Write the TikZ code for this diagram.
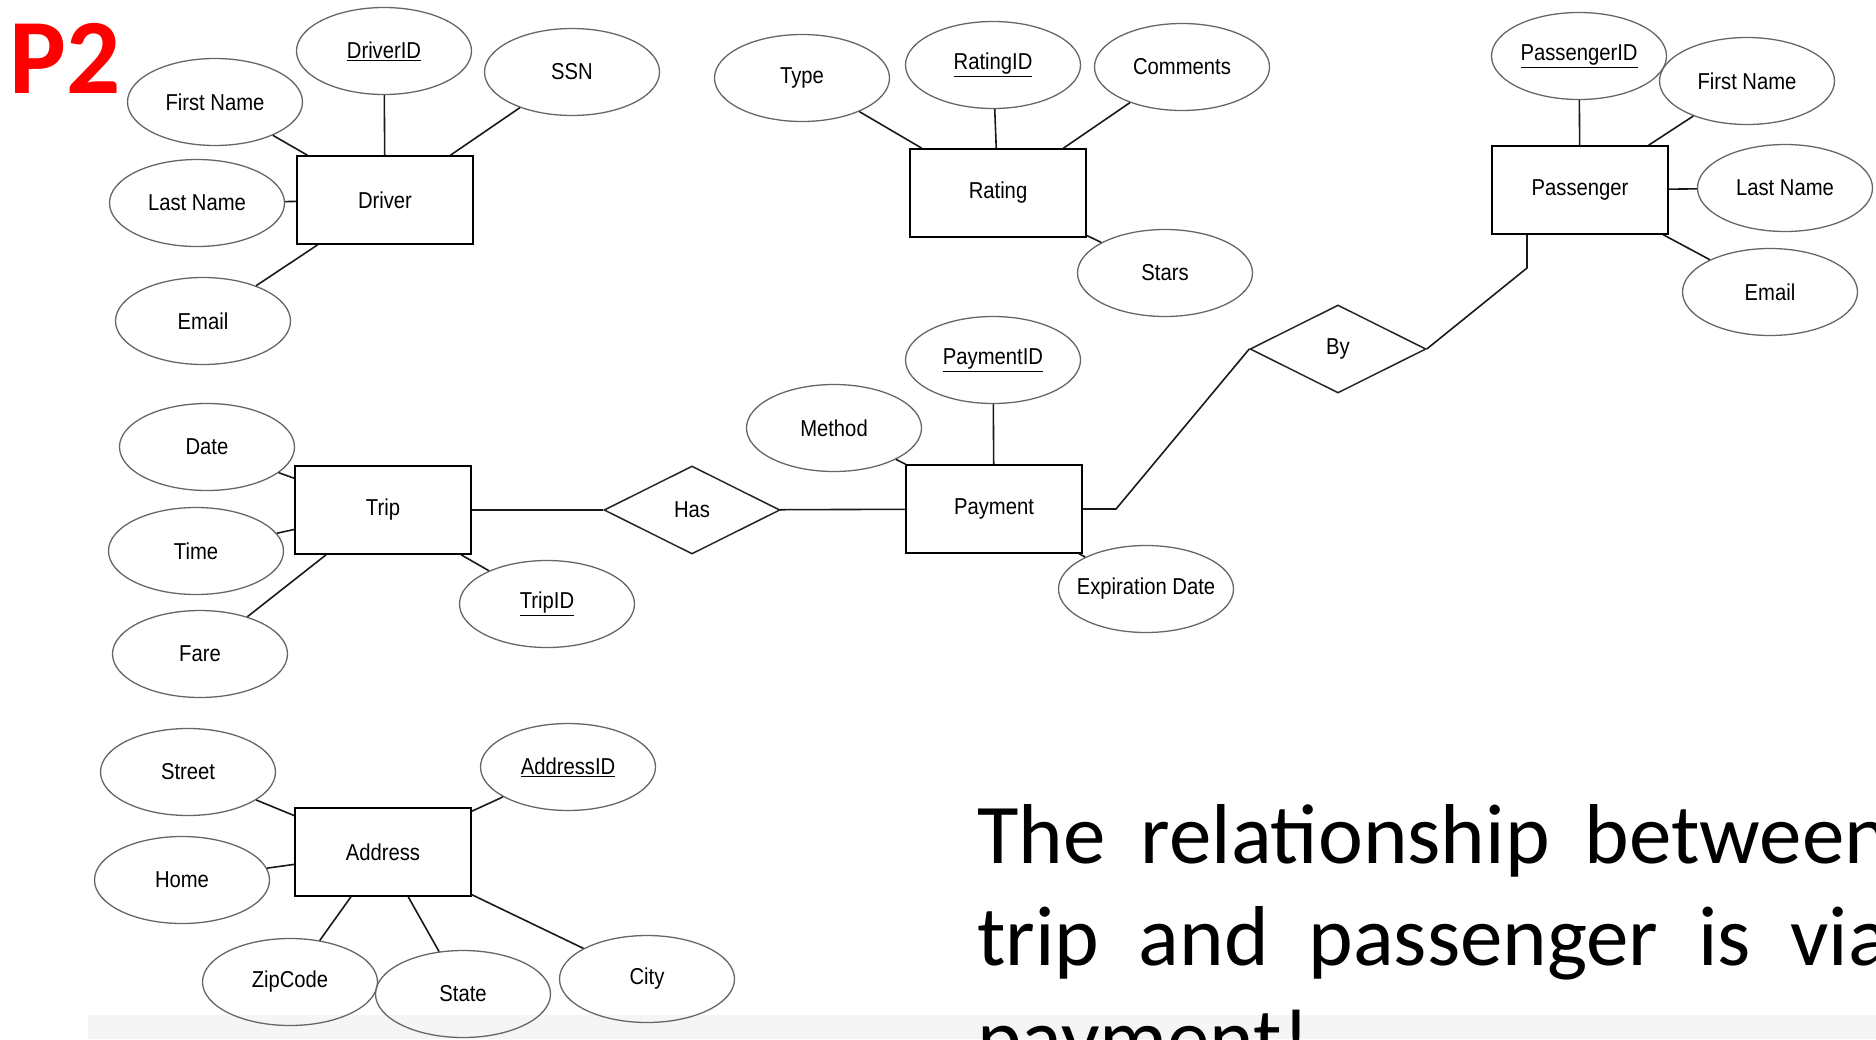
\documentclass[tikz,border=0pt]{standalone}
\usepackage{fontspec}
\setmainfont{Liberation Sans}
\newfontfamily\erfont[FakeStretch=0.88]{Liberation Sans}
\newfontfamily\slidefont{Carlito}
\usetikzlibrary{shapes.geometric}
\begin{document}
\begin{tikzpicture}[x=1pt,y=-1pt,
  attr/.style={ellipse, draw=black!60, line width=1.3pt,
    minimum width=175pt, minimum height=87pt, inner sep=0pt,
    font=\erfont\fontsize{23pt}{27pt}\selectfont},
  entity/.style={rectangle, draw=black, line width=1.6pt,
    minimum width=176pt, minimum height=88pt, inner sep=0pt,
    font=\erfont\fontsize{23pt}{27pt}\selectfont},
  relation/.style={diamond, draw=black!85, line width=1.5pt,
    minimum width=176pt, minimum height=88pt, inner sep=0pt,
    font=\erfont\fontsize{23pt}{27pt}\selectfont},
  link/.style={draw=black!90, line width=1.6pt}]
\useasboundingbox (0,0) rectangle (1876,1039);
\clip (0,0) rectangle (1876,1039);

% light strip along the bottom edge
\fill[black!4] (88,1015) rectangle (1876,1039);

% slide label
\node[anchor=base west, inner sep=0pt, text=red,
  font=\slidefont\bfseries\fontsize{107pt}{116pt}\selectfont] (tag) at (9,93) {P2};

% Driver
\node[entity] (driver) at (385,200) {Driver};
\node[attr] (driverid) at (384,51) {\underline{DriverID}};
\node[attr] (ssn) at (572,72) {SSN};
\node[attr] (dfirst) at (215,102) {First Name};
\node[attr] (dlast) at (197,203) {Last Name};
\node[attr] (demail) at (203,321) {Email};
\foreach \a in {driverid,ssn,dfirst,dlast,demail} \draw[link] (\a) -- (driver);

% Rating
\node[entity] (rating) at (998,193) {Rating};
\node[attr] (type) at (802,78) {Type};
\node[attr] (ratingid) at (993,65) {\underline{RatingID}};
\node[attr] (comments) at (1182,67) {Comments};
\node[attr] (stars) at (1165,273) {Stars};
\foreach \a in {type,ratingid,comments,stars} \draw[link] (\a) -- (rating);

% Passenger
\node[entity] (passenger) at (1580,190) {Passenger};
\node[attr] (passengerid) at (1579,56) {\underline{PassengerID}};
\node[attr] (pfirst) at (1747,81) {First Name};
\node[attr] (plast) at (1785,188) {Last Name};
\node[attr] (pemail) at (1770,292) {Email};
\foreach \a in {passengerid,pfirst,plast,pemail} \draw[link] (\a) -- (passenger);

% Payment
\node[entity] (payment) at (994,509) {Payment};
\node[attr] (paymentid) at (993,360) {\underline{PaymentID}};
\node[attr] (method) at (834,428) {Method};
\node[attr] (expdate) at (1146,589) {\makebox[0pt]{Expiration Date}};
\foreach \a in {paymentid,method,expdate} \draw[link] (\a) -- (payment);

% Trip
\node[entity] (trip) at (383,510) {Trip};
\node[attr] (date) at (207,447) {Date};
\node[attr] (time) at (196,551) {Time};
\node[attr] (fare) at (200,654) {Fare};
\node[attr] (tripid) at (547,604) {\underline{TripID}};
\foreach \a in {date,time,fare,tripid} \draw[link] (\a) -- (trip);

% Address
\node[entity] (address) at (383,852) {Address};
\node[attr] (street) at (188,772) {Street};
\node[attr] (addressid) at (568,767) {\underline{AddressID}};
\node[attr] (home) at (182,880) {Home};
\node[attr] (zipcode) at (290,982) {ZipCode};
\node[attr] (state) at (463,994) {State};
\node[attr] (city) at (647,979) {City};
\foreach \a in {street,addressid,home,zipcode,state,city} \draw[link] (\a) -- (address);

% Relationships
\node[relation] (has) at (692,510) {Has};
\node[relation] (by) at (1338,349) {By};
\draw[link] (trip) -- (has);
\draw[link] (has) -- (payment);
\coordinate (kneeA) at (1116,509);
\coordinate (kneeB) at (1527,268);
\draw[link] (payment.east) -- (kneeA) -- (by.west);
\draw[link] (by.east) -- (kneeB) -- (kneeB |- passenger.south);

% note on the slide
\node[anchor=base west, inner sep=0pt, text width=912pt, align=justify,
  font=\slidefont\fontsize{85pt}{102pt}\selectfont] (note) at (977,863)
  {\tolerance=10000 \hyphenpenalty=10000 The relationship between trip and passenger is via payment!};
\end{tikzpicture}
\end{document}
